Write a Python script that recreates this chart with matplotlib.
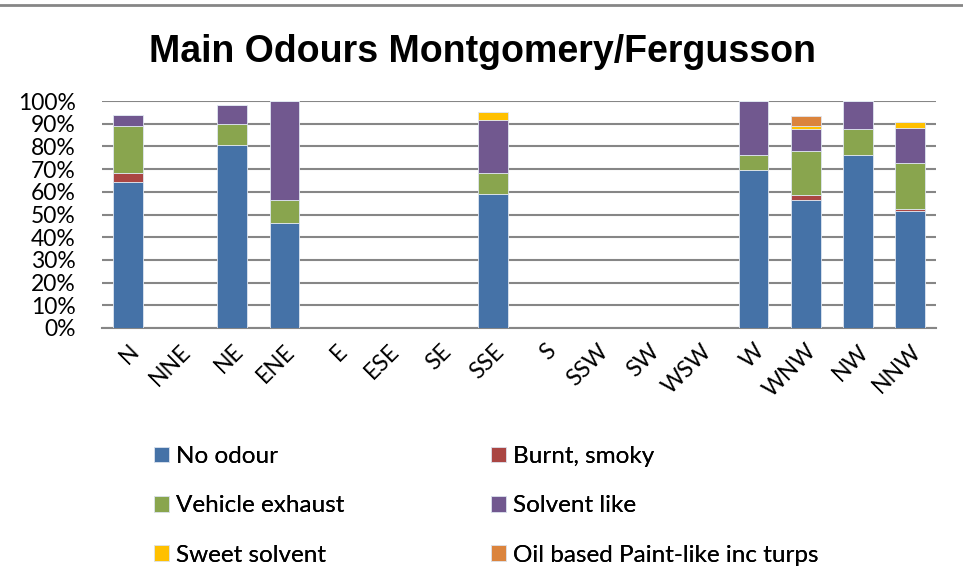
import matplotlib
matplotlib.use('Agg')
import matplotlib.pyplot as plt
import numpy as np

# Wind directions and odour shares (% of observations)
directions = ["N", "NNE", "NE", "ENE", "E", "ESE", "SE", "SSE",
              "S", "SSW", "SW", "WSW", "W", "WNW", "NW", "NNW"]

no_odour = [64.1, 0, 80.5, 46.1, 0, 0, 0, 59.0, 0, 0, 0, 0, 69.6, 56.4, 76.2, 51.4]
burnt_smoky = [4.2, 0, 0, 0, 0, 0, 0, 0, 0, 0, 0, 0, 0, 2.3, 0, 1.0]
vehicle_exhaust = [20.8, 0, 9.2, 10.3, 0, 0, 0, 9.5, 0, 0, 0, 0, 6.7, 19.4, 11.6, 20.5]
solvent_like = [4.9, 0, 8.5, 43.6, 0, 0, 0, 23.3, 0, 0, 0, 0, 23.7, 9.7, 12.2, 15.0]
sweet_solvent = [0, 0, 0, 0, 0, 0, 0, 3.5, 0, 0, 0, 0, 0, 1.0, 0, 2.8]
oil_paint = [0, 0, 0, 0, 0, 0, 0, 0, 0, 0, 0, 0, 0, 4.4, 0, 0]

series = [
    ("No odour", no_odour, "#4572A7"),
    ("Burnt, smoky", burnt_smoky, "#AA4643"),
    ("Vehicle exhaust", vehicle_exhaust, "#89A54E"),
    ("Solvent like", solvent_like, "#71588F"),
    ("Sweet solvent", sweet_solvent, "#FFC000"),
    ("Oil based Paint-like inc turps", oil_paint, "#DB843D"),
]

TXT_FONT = ["Lato", "DejaVu Sans"]

fig = plt.figure(figsize=(9.63, 5.83), dpi=100)
ax = fig.add_axes([102 / 963, 1 - 328 / 583, 834 / 963, 227 / 583])

x = np.arange(len(directions))
bottom = np.zeros(len(directions))
handles = {}
for name, vals, color in series:
    vals = np.array(vals) / 100.0
    bars = ax.bar(x, vals, width=0.57, bottom=bottom, color=color,
                  edgecolor="#dfe6f0", linewidth=0.6, zorder=3)
    handles[name] = bars
    bottom += vals

ax.set_xlim(-0.5, len(directions) - 0.5)
ax.set_ylim(0, 1.0)
ax.set_yticks(np.arange(0, 1.01, 0.1))
ax.set_yticklabels([f"{int(round(v * 100))}%" for v in np.arange(0, 1.01, 0.1)],
                   fontsize=16.5, family=TXT_FONT)
ax.set_xticks(x)
ax.set_xticklabels(directions, rotation=45, ha="right", va="top",
                   rotation_mode="anchor", fontsize=16.5, family=TXT_FONT)
ax.tick_params(axis="x", length=0, pad=9)
ax.tick_params(axis="y", length=0, pad=19)
ax.grid(True, axis="y", color="#868686", linewidth=1.5, zorder=0)
for side in ["left", "right", "top"]:
    ax.spines[side].set_visible(False)
ax.spines["bottom"].set_color("#868686")
ax.spines["bottom"].set_linewidth(1.5)

fig.text(482 / 963, 1 - 62 / 583, "Main Odours Montgomery/Fergusson",
         ha="center", va="baseline", fontsize=27, fontweight="bold",
         family=["Liberation Sans", "DejaVu Sans"])

# chart frame line along the top
fig.add_artist(plt.Line2D([0, 1], [1 - 5 / 583, 1 - 5 / 583],
                          transform=fig.transFigure, color="#868686", linewidth=2))

legend_cols = [
    (["No odour", "Vehicle exhaust", "Sweet solvent"], 154),
    (["Burnt, smoky", "Solvent like", "Oil based Paint-like inc turps"], 491),
]
for names, xpix in legend_cols:
    leg = fig.legend([handles[n] for n in names], names,
                     loc="upper left", bbox_to_anchor=(xpix / 963, 1 - 446 / 583),
                     frameon=False, borderpad=0, borderaxespad=0,
                     handlelength=0.62, handleheight=0.62, handletextpad=0.3,
                     labelspacing=1.17, prop={"family": TXT_FONT, "size": 17.5})
    fig.add_artist(leg)

fig.savefig("out.png", dpi=100)
